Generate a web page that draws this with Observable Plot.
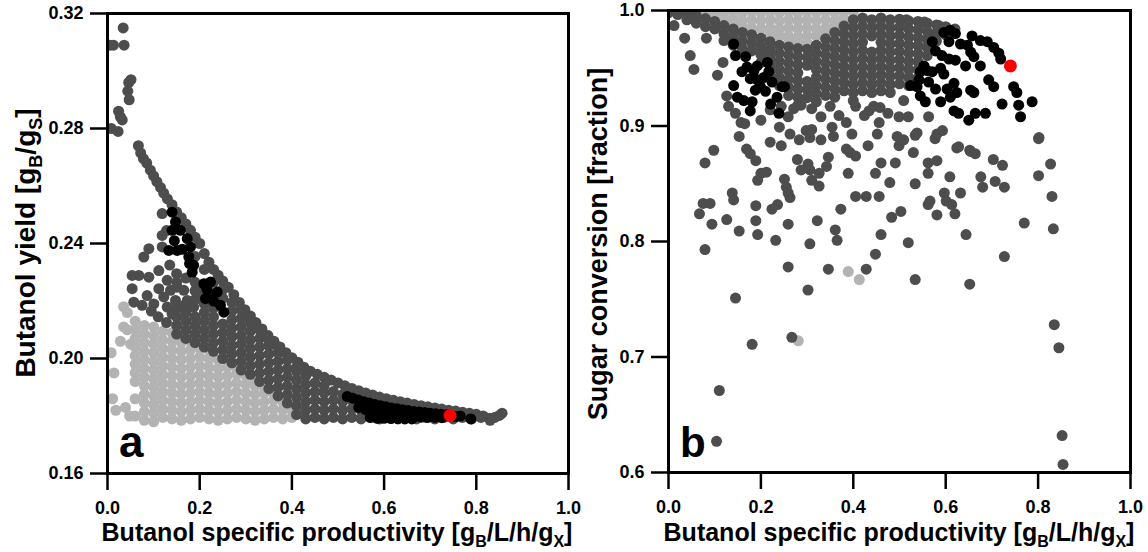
<!DOCTYPE html>
<html><head><meta charset="utf-8">
<script src="https://cdn.jsdelivr.net/npm/d3@7"></script>
<script src="https://cdn.jsdelivr.net/npm/@observablehq/plot@0.6"></script>
<style>
html,body{margin:0;padding:0;background:#fff;}
#wrap{position:relative;width:1148px;height:552px;overflow:hidden;background:#fff;}
#pa,#pb{position:absolute;top:0;width:574px;height:552px;}
#pa{left:0} #pb{left:574px}
svg{overflow:visible}
</style></head><body><div id="wrap"><div id="pa"></div><div id="pb"></div></div>
<script>
// ---------- shared ticks ----------
const xTicks = [0, 0.2, 0.4, 0.6, 0.8, 1.0];
const yTicksA = [0.16, 0.20, 0.24, 0.28, 0.32];
const yTicksB = [0.6, 0.7, 0.8, 0.9, 1.0];

// ---------- panel a: light gray ----------
const lightA_pts = [[0.008,0.202],[0.014,0.195],[0.011,0.186],[0.018,0.182],[0.028,0.206],[0.035,0.218],[0.043,0.216],[0.035,0.211],[0.043,0.210],[0.039,0.183],[0.048,0.180],[0.05,0.205]];
const lightA_cols = [
[0.06,[0.180,0.186,0.192,0.195,0.198,0.201,0.204,0.207,0.210,0.213]],
[0.08,[0.1785,0.1815,0.1845,0.1875,0.1905,0.1935,0.1965,0.1995,0.2025,0.2055,0.2085,0.2115]],
[0.10,[0.178,0.181,0.184,0.187,0.190,0.193,0.196,0.199,0.202,0.205,0.208,0.211]],
[0.12,[0.1795,0.1825,0.1855,0.1885,0.1915,0.1945,0.1975,0.2005,0.2035,0.2065,0.2095]],
[0.14,[0.179,0.182,0.185,0.188,0.191,0.194,0.197,0.200,0.203,0.206,0.209]],
[0.16,[0.1785,0.1815,0.1845,0.1875,0.1905,0.1935,0.1965,0.1995,0.2025,0.2055]],
[0.18,[0.179,0.182,0.185,0.188,0.191,0.194,0.197,0.200,0.203,0.206]],
[0.20,[0.1795,0.1825,0.1855,0.1885,0.1915,0.1945,0.1975,0.2005,0.2035]],
[0.22,[0.179,0.182,0.185,0.188,0.191,0.194,0.197,0.200,0.203]],
[0.24,[0.1785,0.1815,0.1845,0.1875,0.1905,0.1935,0.1965,0.1995]],
[0.26,[0.179,0.182,0.185,0.188,0.191,0.194,0.197,0.199]],
[0.28,[0.1795,0.1825,0.1855,0.1885,0.1915,0.1945,0.1965]],
[0.30,[0.179,0.182,0.185,0.188,0.191,0.194]],
[0.32,[0.1785,0.1815,0.1845,0.1875,0.1905,0.192]],
[0.34,[0.179,0.182,0.185,0.188,0.190]],
[0.36,[0.1795,0.1825,0.1855,0.188]],
[0.38,[0.179,0.182,0.185]],
[0.40,[0.1795,0.182]]
];
// ---------- panel a: dark gray ----------
const darkA_top = [[0.005,0.309],[0.013,0.309],[0.036,0.309],[0.034,0.315],[0.046,0.296],[0.051,0.297],[0.044,0.293],[0.047,0.290],[0.024,0.286],[0.028,0.284],[0.032,0.283],[0.008,0.280],[0.023,0.279]];
const darkA_edge = [[0.067,0.274],[0.072,0.2715],[0.078,0.2695],[0.085,0.268],[0.093,0.2655],[0.100,0.2635],[0.107,0.2615],[0.115,0.2595],[0.122,0.2575],[0.130,0.2555],[0.140,0.2535],[0.150,0.251],[0.160,0.249],[0.170,0.2468],[0.180,0.2446],[0.190,0.2422],[0.200,0.240],[0.210,0.2365],[0.220,0.2335],[0.230,0.231],[0.240,0.229],[0.250,0.227],[0.262,0.2248],[0.274,0.2222],[0.286,0.2195],[0.298,0.217],[0.31,0.2148],[0.322,0.2125],[0.335,0.2103],[0.348,0.208],[0.361,0.206],[0.374,0.204],[0.387,0.202],[0.40,0.2003],[0.413,0.1987],[0.426,0.197],[0.44,0.1956],[0.455,0.1945],[0.47,0.1935],[0.485,0.1925],[0.50,0.1915],[0.515,0.1905],[0.53,0.1896],[0.545,0.1888],[0.56,0.188],[0.575,0.1873],[0.59,0.1866],[0.605,0.186],[0.62,0.1855],[0.635,0.185],[0.65,0.1845],[0.665,0.184],[0.68,0.1836],[0.695,0.1832],[0.71,0.1828],[0.725,0.1824],[0.74,0.182],[0.755,0.1817],[0.77,0.1813],[0.785,0.181],[0.80,0.1806],[0.815,0.18],[0.83,0.1792],[0.84,0.1795],[0.85,0.1802],[0.856,0.181]];
const darkA_left = [[0.1186,0.2504],[0.1186,0.2428],[0.1186,0.2388],[0.0897,0.2382],[0.0788,0.2353],[0.0535,0.2289],[0.068,0.2289],[0.0535,0.2243],[0.0897,0.2283],[0.1113,0.2306],[0.057,0.2196],[0.086,0.2219],[0.1113,0.2243],[0.1295,0.2272],[0.1005,0.219],[0.122,0.2214],[0.1367,0.2237],[0.151,0.2248],[0.1656,0.2237],[0.1475,0.2202],[0.1295,0.2179],[0.158,0.2179],[0.173,0.2202],[0.187,0.2179],[0.1946,0.2214],[0.2017,0.2237],[0.128,0.2125],[0.14,0.2155],[0.075,0.2185],[0.095,0.2165],[0.11,0.2145],[0.135,0.2325],[0.128,0.2445]];
const darkA_cols = [
[0.15,[0.2085,0.2115,0.2145,0.2175,0.2265,0.2295]],
[0.17,[0.207,0.210,0.213,0.216,0.219,0.228]],
[0.19,[0.2055,0.2085,0.2115,0.2145,0.2205,0.2235,0.2265,0.2355]],
[0.21,[0.204,0.207,0.210,0.213,0.216,0.219,0.231]],
[0.23,[0.2025,0.2055,0.2085,0.2115,0.2145,0.2175,0.2265]],
[0.25,[0.200,0.203,0.206,0.209,0.212,0.221,0.224]],
[0.27,[0.1985,0.2015,0.2045,0.2075,0.2105,0.2135,0.2165,0.2195]],
[0.29,[0.196,0.199,0.202,0.205,0.208,0.211,0.214,0.217]],
[0.31,[0.1945,0.1975,0.2005,0.2035,0.2065,0.2095,0.2125]],
[0.33,[0.192,0.195,0.198,0.201,0.204,0.207,0.210]],
[0.35,[0.1895,0.1925,0.1955,0.1985,0.2015,0.2045,0.2065]],
[0.37,[0.187,0.190,0.193,0.196,0.199,0.202,0.204]],
[0.39,[0.1845,0.1875,0.1905,0.1935,0.1965,0.1995]],
[0.41,[0.1805,0.1835,0.1865,0.1895,0.1925,0.1955,0.197]],
[0.43,[0.179,0.182,0.185,0.188,0.191,0.194]],
[0.45,[0.1795,0.1825,0.1855,0.1885,0.1915]],
[0.47,[0.179,0.182,0.185,0.188,0.1905]],
[0.49,[0.1795,0.1825,0.1855,0.1885]],
[0.51,[0.179,0.182,0.185,0.1875]],
[0.53,[0.1795,0.1825,0.1855]],
[0.55,[0.179,0.182,0.1848]],
[0.57,[0.1795,0.1825,0.184]],
[0.59,[0.179,0.182]],
[0.61,[0.1795,0.1822]],
[0.63,[0.179,0.1815]],
[0.65,[0.1795,0.181]],
[0.67,[0.179,0.1808]],
[0.69,[0.1795,0.1805]],
[0.71,[0.179]],
[0.73,[0.1795]],
[0.75,[0.179]],
[0.77,[0.1795]],
[0.79,[0.179]],
[0.81,[0.1795]],
[0.83,[0.1785]]
];
// ---------- panel a: black and red ----------
const blackA = [[0.140,0.2509],[0.1475,0.2475],[0.140,0.2446],[0.158,0.2446],[0.133,0.2376],[0.151,0.2376],[0.173,0.2417],[0.180,0.2388],[0.1764,0.2353],[0.187,0.2324],[0.1837,0.230],[0.209,0.226],[0.2234,0.2266],[0.2234,0.2225],[0.238,0.2231],[0.2126,0.2208],[0.245,0.2185],[0.2523,0.2161],[0.145,0.241],[0.162,0.238],[0.178,0.233],[0.216,0.224],[0.230,0.220],
[0.520,0.1868],[0.532,0.1862],[0.544,0.1856],[0.556,0.1850],[0.568,0.1845],[0.580,0.1840],[0.592,0.1836],[0.604,0.1832],[0.616,0.1828],[0.628,0.1825],[0.640,0.1822],[0.652,0.1819],[0.664,0.1816],[0.676,0.1814],[0.688,0.1812],[0.700,0.1810],[0.712,0.1808],[0.724,0.1806],[0.736,0.1804],
[0.545,0.1830],[0.560,0.1822],[0.575,0.1815],[0.590,0.1810],[0.605,0.1806],[0.620,0.1802],[0.635,0.1800],[0.650,0.1798],[0.665,0.1797],[0.680,0.1796],[0.695,0.1795],[0.710,0.1795],[0.725,0.1794],
[0.570,0.1795],[0.585,0.1792],[0.600,0.1792],[0.615,0.1791],[0.630,0.1791],[0.645,0.1790],[0.660,0.1790],
[0.755,0.1798],[0.765,0.1800],[0.788,0.1790]];
const redA = [[0.743,0.1802]];

// ---------- panel b: light gray ----------
const lightB_cols = [
[0.06,[0.998]],[0.08,[0.9985]],[0.10,[0.999,0.995]],[0.12,[0.998,0.992]],[0.14,[0.999,0.993,0.988]],[0.16,[0.998,0.991,0.986]],[0.18,[0.999,0.992,0.985]],[0.20,[0.998,0.991,0.984]],[0.22,[0.999,0.992,0.985,0.980]],[0.24,[0.998,0.991,0.984,0.978]],[0.26,[0.999,0.992,0.985,0.978,0.975]],[0.28,[0.998,0.991,0.984,0.977,0.972]],[0.30,[0.999,0.992,0.985,0.978,0.972]],[0.32,[0.998,0.991,0.984,0.978]],[0.34,[0.999,0.992,0.985,0.981]],[0.36,[0.998,0.991,0.986]],[0.38,[0.999,0.993]],[0.40,[0.999]]
];
const lightB_pts = [[0.389,0.774],[0.413,0.767],[0.281,0.714]];
// ---------- panel b: dark gray ----------
const darkB_cols = [
[0.00,[0.998]],[0.02,[0.9965]],[0.04,[0.998,0.992]],[0.06,[0.9955,0.989]],[0.08,[0.993,0.986]],[0.10,[0.9905,0.984]],
[0.12,[0.987,0.980,0.974]],[0.14,[0.984,0.977,0.970]],[0.16,[0.981,0.974,0.967]],[0.18,[0.979,0.972,0.965]],
[0.20,[0.976,0.969,0.962,0.955]],[0.22,[0.973,0.966,0.959,0.952,0.945]],[0.24,[0.970,0.963,0.956,0.949,0.942,0.935]],
[0.26,[0.9685,0.9615,0.9545,0.9475,0.9405,0.9335,0.9265]],
[0.28,[0.967,0.960,0.953,0.946,0.939,0.932,0.925,0.918]],
[0.30,[0.9665,0.9595,0.9525,0.9385,0.9315,0.9245]],
[0.32,[0.970,0.963,0.956,0.949,0.942,0.935,0.928,0.921]],
[0.34,[0.9755,0.9685,0.9615,0.9545,0.9475,0.9405,0.9335,0.9265]],
[0.36,[0.981,0.974,0.967,0.960,0.953,0.946,0.939,0.932,0.925]],
[0.38,[0.9865,0.9795,0.9725,0.9655,0.9585,0.9515,0.9445,0.9375,0.9305]],
[0.40,[0.992,0.985,0.978,0.971,0.964,0.957,0.950,0.943,0.936,0.929,0.922]],
[0.42,[0.9935,0.9865,0.9795,0.9725,0.9655,0.9585,0.9515,0.9445,0.9375,0.9305]],
[0.44,[0.992,0.985,0.978,0.964,0.957,0.950,0.943,0.936,0.929]],
[0.46,[0.9935,0.9865,0.9795,0.9725,0.9655,0.9585,0.9515,0.9445,0.9375,0.9305]],
[0.48,[0.992,0.985,0.978,0.971,0.964,0.957,0.950,0.943,0.936,0.929]],
[0.50,[0.9925,0.9855,0.9785,0.9715,0.9645,0.9575,0.9505,0.9435,0.9365]],
[0.52,[0.991,0.984,0.977,0.970,0.963,0.956,0.949,0.942,0.935]],
[0.54,[0.9905,0.9835,0.9765,0.9695,0.9625,0.9555,0.9485,0.9415]],
[0.56,[0.989,0.982,0.975,0.968,0.961]],
[0.58,[0.9875,0.9805,0.9735]],
[0.60,[0.986,0.979]],
[0.62,[0.984]]
];
const darkB_pts = [[0.012,0.987],[0.035,0.976],[0.047,0.961],[0.055,0.949],[0.082,0.976],[0.106,0.944],[0.118,0.955],[0.126,0.926],[0.130,0.917],[0.098,0.879],[0.079,0.868],[0.067,0.824],[0.075,0.833],[0.090,0.833],[0.094,0.815],[0.079,0.793],[0.126,0.819],[0.138,0.842],[0.141,0.836],[0.145,0.751],[0.153,0.809],[0.153,0.891],[0.157,0.903],[0.169,0.880],[0.177,0.876],[0.189,0.870],[0.193,0.853],[0.200,0.859],[0.189,0.831],[0.189,0.818],[0.193,0.806],[0.181,0.711],[0.212,0.860],[0.224,0.828],[0.236,0.832],[0.232,0.801],[0.220,0.886],[0.244,0.883],[0.251,0.854],[0.255,0.847],[0.259,0.842],[0.263,0.838],[0.259,0.815],[0.259,0.778],[0.267,0.717],[0.110,0.671],[0.104,0.627],[0.279,0.871],[0.287,0.862],[0.283,0.888],[0.298,0.896],[0.306,0.890],[0.302,0.867],[0.306,0.862],[0.310,0.853],[0.306,0.798],[0.322,0.818],[0.302,0.758],[0.326,0.859],[0.326,0.848],[0.342,0.865],[0.346,0.873],[0.346,0.776],[0.354,0.899],[0.357,0.891],[0.361,0.810],[0.365,0.801],[0.373,0.828],[0.389,0.859],[0.385,0.880],[0.393,0.877],[0.405,0.874],[0.405,0.839],[0.428,0.839],[0.432,0.883],[0.428,0.776],[0.448,0.789],[0.448,0.859],[0.456,0.839],[0.460,0.806],[0.460,0.868],[0.479,0.851],[0.483,0.821],[0.491,0.868],[0.495,0.891],[0.499,0.883],[0.503,0.826],[0.519,0.799],[0.519,0.908],[0.530,0.877],[0.534,0.850],[0.534,0.767],[0.534,0.892],[0.562,0.868],[0.562,0.859],[0.566,0.835],[0.562,0.832],[0.581,0.823],[0.577,0.889],[0.581,0.870],[0.593,0.896],[0.597,0.842],[0.601,0.835],[0.609,0.856],[0.613,0.832],[0.620,0.824],[0.624,0.881],[0.632,0.842],[0.644,0.806],[0.652,0.763],[0.652,0.879],[0.664,0.876],[0.676,0.856],[0.680,0.847],[0.703,0.871],[0.707,0.852],[0.723,0.866],[0.727,0.847],[0.727,0.787],[0.770,0.816],[0.801,0.889],[0.801,0.857],[0.827,0.867],[0.830,0.839],[0.833,0.811],[0.835,0.728],[0.845,0.708],[0.852,0.632],[0.854,0.607],
[0.145,0.911],[0.165,0.902],[0.200,0.905],[0.220,0.914],[0.244,0.917],[0.259,0.908],[0.271,0.915],[0.287,0.918],[0.310,0.915],[0.330,0.908],[0.350,0.917],[0.369,0.909],[0.385,0.903],[0.405,0.917],[0.424,0.909],[0.444,0.917],[0.456,0.903],[0.475,0.911],[0.499,0.908],[0.310,0.897],[0.330,0.888],[0.397,0.893],[0.452,0.893],[0.263,0.893],[0.240,0.899],[0.434,0.913],[0.458,0.916],[0.509,0.922],[0.563,0.908],[0.538,0.894],[0.509,0.888],[0.581,0.893],[0.628,0.882],[0.654,0.878],[0.802,0.890],[0.567,0.977],[0.515,0.992],[0.554,0.990],[0.585,0.987]];
// ---------- panel b: black and red ----------
const blackB = [[0.141,0.971],[0.145,0.961],[0.167,0.960],[0.170,0.951],[0.159,0.947],[0.185,0.948],[0.214,0.955],[0.217,0.947],[0.177,0.941],[0.192,0.940],[0.206,0.942],[0.224,0.938],[0.246,0.934],[0.251,0.934],[0.141,0.935],[0.149,0.925],[0.163,0.922],[0.181,0.921],[0.177,0.913],[0.188,0.931],[0.199,0.934],[0.221,0.919],[0.235,0.925],[0.239,0.911],[0.210,0.930],[0.192,0.952],
[0.596,0.981],[0.610,0.983],[0.621,0.980],[0.657,0.978],[0.675,0.974],[0.690,0.973],[0.704,0.968],[0.715,0.963],[0.719,0.958],[0.571,0.973],[0.607,0.973],[0.578,0.965],[0.592,0.961],[0.607,0.958],[0.621,0.957],[0.632,0.971],[0.647,0.970],[0.654,0.964],[0.661,0.960],[0.643,0.952],[0.675,0.952],[0.553,0.952],[0.560,0.948],[0.545,0.947],[0.571,0.947],[0.589,0.950],[0.596,0.945],[0.542,0.940],[0.524,0.935],[0.538,0.934],[0.563,0.938],[0.578,0.932],[0.603,0.932],[0.618,0.937],[0.624,0.929],[0.610,0.925],[0.545,0.926],[0.556,0.921],[0.589,0.921],[0.618,0.913],[0.628,0.911],[0.650,0.905],[0.664,0.911],[0.686,0.911],[0.654,0.931],[0.661,0.929],[0.693,0.940],[0.704,0.934],[0.722,0.919],[0.747,0.934],[0.754,0.929],[0.758,0.918],[0.762,0.908],[0.787,0.921]];
const redB = [[0.740,0.952]];

// ---------- build ----------
const cols = c => c.flatMap(([x, ys]) => ys.map(y => [x, y]));
const LIGHT = "#b3b3b3", DARK = "#4d4d4d", BLACK = "#000000", RED = "#ff0000";
const FONT = "'Liberation Sans', Arial, sans-serif";

function panel({layers, yDomain, yTicks, yFmt, margins}) {
  return Plot.plot({
    width: 574, height: 552, ...margins,
    style: {fontFamily: FONT, fontSize: "18px", fontWeight: "bold", color: "#000", background: "transparent", overflow: "visible"},
    x: {domain: [0, 1]},
    y: {domain: yDomain},
    marks: [
      ...layers.map(l => Plot.dot(l.data, {x: d => d[0], y: d => d[1], r: l.r, fill: l.fill, clip: true})),
      Plot.frame({stroke: "#000", strokeWidth: 3}),
      Plot.axisX({ticks: xTicks, tickFormat: d3.format(".1f"), tickSize: 17, tickPadding: 11, strokeWidth: 2.5, label: null, fontSize: 18, fontWeight: "bold"}),
      Plot.axisY({ticks: yTicks, tickFormat: d3.format(yFmt), tickSize: 17, tickPadding: 7, strokeWidth: 2.5, label: null, fontSize: 18, fontWeight: "bold"})
    ]
  });
}

function addText(svg, {x, y, size, rotate, parts, anchor}) {
  const t = d3.select(svg).append("text")
    .attr("text-anchor", anchor || "middle")
    .attr("transform", rotate ? `translate(${x},${y}) rotate(-90)` : `translate(${x},${y})`)
    .style("font-size", size + "px").style("font-weight", "bold")
    .style("font-family", FONT).attr("fill", "#000");
  let shifted = false;
  parts.forEach(([s, sub]) => {
    const sp = t.append("tspan").text(s);
    if (sub && !shifted) { sp.attr("dy", Math.round(size * 0.25)).style("font-size", Math.round(size * 0.65) + "px"); shifted = true; }
    else if (!sub && shifted) { sp.attr("dy", -Math.round(size * 0.25)); shifted = false; }
  });
}

const svgA = panel({
  layers: [
    {data: lightA_pts.concat(cols(lightA_cols)), fill: LIGHT, r: 5.5},
    {data: darkA_top.concat(darkA_edge, darkA_left, cols(darkA_cols)), fill: DARK, r: 5.5},
    {data: blackA, fill: BLACK, r: 5.5},
    {data: redA, fill: RED, r: 6.5}
  ],
  yDomain: [0.16, 0.32], yTicks: yTicksA, yFmt: ".2f",
  margins: {marginLeft: 107, marginRight: 6, marginTop: 13, marginBottom: 79}
});
document.getElementById("pa").appendChild(svgA);
addText(svgA, {x: 337, y: 541, size: 25, parts: [["Butanol specific productivity [g"], ["B", true], ["/L/h/g"], ["X", true], ["]"]]});
addText(svgA, {x: 35, y: 243, size: 28, rotate: true, parts: [["Butanol yield [g"], ["B", true], ["/g"], ["S", true], ["]"]]});
addText(svgA, {x: 119, y: 457, size: 44, anchor: "start", parts: [["a"]]});

const svgB = panel({
  layers: [
    {data: cols(lightB_cols).concat(lightB_pts), fill: LIGHT, r: 5.5},
    {data: cols(darkB_cols).concat(darkB_pts), fill: DARK, r: 5.5},
    {data: blackB, fill: BLACK, r: 5.5},
    {data: redB, fill: RED, r: 6.5}
  ],
  yDomain: [0.6, 1.0], yTicks: yTicksB, yFmt: ".1f",
  margins: {marginLeft: 94, marginRight: 18, marginTop: 10, marginBottom: 80}
});
document.getElementById("pb").appendChild(svgB);
addText(svgB, {x: 325, y: 541, size: 25, parts: [["Butanol specific productivity [g"], ["B", true], ["/L/h/g"], ["X", true], ["]"]]});
addText(svgB, {x: 33, y: 244, size: 27, rotate: true, parts: [["Sugar conversion [fraction]"]]});
addText(svgB, {x: 106, y: 457, size: 42, anchor: "start", parts: [["b"]]});
</script>
</body></html>
